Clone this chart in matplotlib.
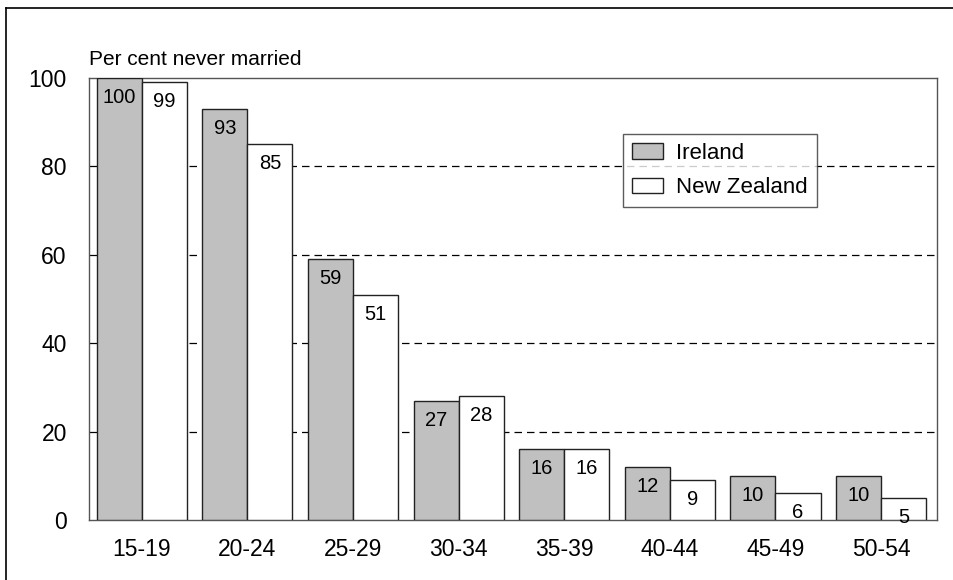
import numpy as np
import matplotlib.pyplot as plt
from matplotlib.lines import Line2D

plt.rcParams['font.family'] = ['Liberation Sans', 'DejaVu Sans']

age_groups = ['15-19', '20-24', '25-29', '30-34', '35-39', '40-44', '45-49', '50-54']
ireland = [100, 93, 59, 27, 16, 12, 10, 10]
new_zealand = [99, 85, 51, 28, 16, 9, 6, 5]

W, H, DPI = 954, 580, 100

def main():
    fig = plt.figure(figsize=(W / DPI, H / DPI), dpi=DPI)
    ax = fig.add_axes([89 / W, 1 - 520 / H, (937 - 89) / W, (520 - 78) / H])

    x = np.arange(len(age_groups))
    bw = 0.427
    b1 = ax.bar(x - bw / 2, ireland, bw, color='#c0c0c0', edgecolor='#222222',
                linewidth=1, label='Ireland', zorder=3)
    b2 = ax.bar(x + bw / 2, new_zealand, bw, color='white', edgecolor='#222222',
                linewidth=1, label='New Zealand', zorder=3)

    for bars, vals in ((b1, ireland), (b2, new_zealand)):
        for r, v in zip(bars, vals):
            ax.annotate(str(v), (r.get_x() + r.get_width() / 2, v),
                        xytext=(0, -14), textcoords='offset points',
                        ha='center', va='center', fontsize=14.5, zorder=4)

    ax.set_xlim(-0.5, 7.53)
    ax.set_ylim(0, 100)
    ax.set_yticks([0, 20, 40, 60, 80, 100])
    ax.set_xticks(x)
    ax.set_xticklabels(age_groups)
    ax.tick_params(axis='both', length=0, labelsize=16.5)
    ax.tick_params(axis='x', pad=13)
    ax.tick_params(axis='y', pad=16)

    for yv in [20, 40, 60, 80]:
        ax.axhline(yv, color='black', linestyle=(0, (6, 4)), linewidth=0.9, zorder=1)

    for s in ax.spines.values():
        s.set_color('#555555')
        s.set_linewidth(1)

    fig.text(89 / W, 1 - 65 / H, 'Per cent never married', fontsize=15,
             ha='left', va='baseline')

    leg = ax.legend(loc='upper left', bbox_to_anchor=((623 - 89) / 848, (520 - 134) / 442),
                    fontsize=16, frameon=True, fancybox=False, shadow=False,
                    handlelength=1.4, handleheight=0.7, handletextpad=0.6,
                    borderpad=0.4, labelspacing=0.6, borderaxespad=0)
    leg.get_frame().set_edgecolor('#333333')
    leg.get_frame().set_linewidth(1)
    leg.set_zorder(5)

    # outer frame (top and left edges visible)
    fig.add_artist(Line2D([6 / W, 6 / W], [0, 1 - 8 / H], transform=fig.transFigure,
                          color='black', linewidth=1.2))
    fig.add_artist(Line2D([6 / W, 1], [1 - 8 / H, 1 - 8 / H], transform=fig.transFigure,
                          color='black', linewidth=1.2))

    fig.savefig('out.png', dpi=DPI)

if __name__ == '__main__':
    main()
